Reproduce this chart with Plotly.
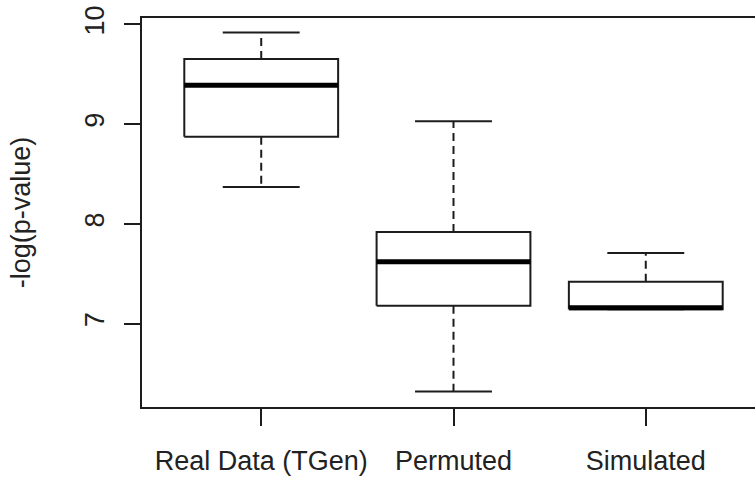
import plotly.graph_objects as go

categories = ["Real Data (TGen)", "Permuted", "Simulated"]
positions = [1, 2, 3]
lower_whisker = [8.37, 6.32, 7.145]
q1 = [8.875, 7.18, 7.145]
median = [9.39, 7.62, 7.16]
q3 = [9.655, 7.92, 7.42]
upper_whisker = [9.92, 9.03, 7.71]
y_ticks = [7, 8, 9, 10]

BOX_HALF = 0.4
CAP_HALF = 0.2
LINE = "#1c1c1c"

fig = go.Figure()

for i, x in enumerate(positions):
    # whiskers (dashed)
    fig.add_trace(go.Scatter(
        x=[x, x, None, x, x],
        y=[q3[i], upper_whisker[i], None, q1[i], lower_whisker[i]],
        mode="lines", line=dict(color=LINE, width=2, dash="8px,5px"),
        hoverinfo="skip", showlegend=False))
    # caps
    fig.add_trace(go.Scatter(
        x=[x - CAP_HALF, x + CAP_HALF, None, x - CAP_HALF, x + CAP_HALF],
        y=[upper_whisker[i], upper_whisker[i], None, lower_whisker[i], lower_whisker[i]],
        mode="lines", line=dict(color=LINE, width=2),
        hoverinfo="skip", showlegend=False))
    # box
    fig.add_trace(go.Scatter(
        x=[x - BOX_HALF, x + BOX_HALF, x + BOX_HALF, x - BOX_HALF, x - BOX_HALF],
        y=[q1[i], q1[i], q3[i], q3[i], q1[i]],
        mode="lines", fill="toself", fillcolor="white",
        line=dict(color=LINE, width=2),
        hoverinfo="skip", showlegend=False))
    # median
    fig.add_trace(go.Scatter(
        x=[x - BOX_HALF, x + BOX_HALF],
        y=[median[i], median[i]],
        mode="lines", line=dict(color="black", width=5),
        hoverinfo="skip", showlegend=False))

font_family = "Liberation Sans, Arial, sans-serif"

fig.update_layout(
    width=755, height=483,
    margin=dict(l=142, r=0, t=18, b=76),
    paper_bgcolor="white", plot_bgcolor="white",
    font=dict(family=font_family, size=27, color="#222222"),
    xaxis=dict(
        range=[0.38, 3.568],
        tickmode="array", tickvals=positions, ticktext=categories,
        ticks="outside", ticklen=17, tickwidth=2, tickcolor=LINE,
        showline=True, linewidth=2, linecolor=LINE, mirror=True,
        showgrid=False, zeroline=False,
        ticklabelstandoff=12,
        tickfont=dict(size=27),
    ),
    yaxis=dict(
        range=[6.165, 10.065],
        tickmode="array", tickvals=y_ticks, ticktext=[str(v) for v in y_ticks],
        ticks="outside", ticklen=16, tickwidth=2, tickcolor=LINE,
        showline=True, linewidth=2, linecolor=LINE,
        showgrid=False, zeroline=False,
        tickangle=-90,
        ticklabelstandoff=9,
        tickfont=dict(size=27),
        title=dict(text="-log(p-value)", font=dict(size=27), standoff=42),
        automargin=False,
    ),
)

fig.write_html("out.html")
